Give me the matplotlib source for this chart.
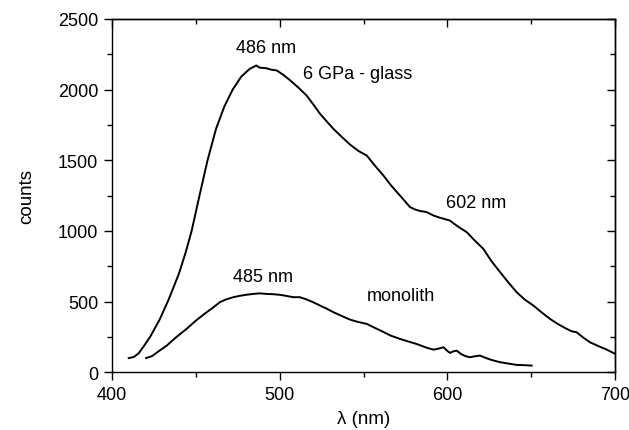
import matplotlib
matplotlib.use("Agg")
import matplotlib.pyplot as plt
from matplotlib.ticker import MultipleLocator

plt.rcParams['font.family'] = ['Liberation Sans', 'DejaVu Sans']

# 6 GPa - glass spectrum (wavelength nm, counts)
glass_wl = [410, 413, 416, 419, 423, 428.6, 434, 440, 444, 447.5, 452, 457,
            462, 467, 472, 477, 482, 486, 488, 492.2, 495,
            498.2, 502, 506.2, 511, 516, 520, 524, 528, 532, 537, 542, 547, 551.9,
            556.5, 561.8, 566.5, 571.7, 575, 577.7, 581, 584, 587.6, 591.6, 595,
            598, 601.5, 604, 607, 611.5, 616, 621.4, 626, 631.4, 636, 641.3, 646,
            651.2, 656, 661.2, 666, 671.1, 674, 677, 681, 685, 690, 695, 700]
glass_counts = [100, 108, 135, 185, 255, 377, 520, 700, 850, 1000, 1240, 1500,
                1720, 1880, 2000, 2090, 2145, 2170, 2155, 2150, 2140,
                2135, 2105, 2065, 2015, 1958, 1895, 1829, 1775, 1722, 1665, 1610,
                1565, 1533, 1465, 1392, 1320, 1250, 1205, 1168, 1150, 1140, 1133,
                1109, 1095, 1085, 1073, 1050, 1025, 991, 935, 873, 790, 708, 640,
                566, 515, 472, 425, 377, 340, 307, 290, 283, 245, 212, 185, 160, 130]

# monolith spectrum (wavelength nm, counts)
mono_wl = [420.3, 424, 428, 432.6, 438, 444.5, 450, 456.5, 460, 464.4, 468, 472.4,
           476, 480, 484.3, 488, 492.2, 496, 500, 504, 508.1, 512, 516, 520, 524,
           528, 532, 537, 542, 547, 551.9, 556, 561, 566, 571.7, 576, 581.6, 585,
           588, 591.6, 594, 597.6, 600, 601.5, 603.5, 605.5, 608, 610.5, 613.4,
           616, 619.4, 622, 626, 631.4, 636, 641.3, 646, 650.2]
mono_counts = [100, 115, 150, 188, 245, 307, 365, 425, 455, 496, 515, 531,
               540, 548, 554, 558, 554, 552, 548, 540, 531, 531, 515, 495, 472,
               450, 425, 398, 372, 355, 342, 318, 290, 260, 236, 220, 200, 185,
               172, 160, 165, 177, 150, 137, 148, 153, 130, 115, 106, 112, 118,
               105, 88, 71, 62, 52, 50, 47]

annot_texts = ["486 nm", "6 GPa - glass", "602 nm", "485 nm", "monolith"]
annot_x = [492, 514, 617, 490, 572]
annot_y = [2300, 2110, 1200, 675, 540]
annot_ha = ["center", "left", "center", "center", "center"]

fig = plt.figure(figsize=(6.29, 4.31), dpi=100)
ax = fig.add_axes([0.178, 0.134, 0.8, 0.82])

ax.plot(glass_wl, glass_counts, color='black', lw=1.4)
ax.plot(mono_wl, mono_counts, color='black', lw=1.4)

for t, x, y, ha in zip(annot_texts, annot_x, annot_y, annot_ha):
    ax.text(x, y, t, ha=ha, va='center', fontsize=13)

ax.set_xlim(400, 700)
ax.set_ylim(0, 2500)
ax.xaxis.set_major_locator(MultipleLocator(100))
ax.xaxis.set_minor_locator(MultipleLocator(50))
ax.yaxis.set_major_locator(MultipleLocator(500))
ax.yaxis.set_minor_locator(MultipleLocator(250))

ax.tick_params(axis='both', which='major', direction='out', length=6, width=1.0,
               labelsize=13, pad=4)
ax.tick_params(axis='both', which='minor', direction='out', length=3.5, width=1.0)

# top and right: inward ticks, no labels
axt = ax.secondary_xaxis('top')
axt.xaxis.set_major_locator(MultipleLocator(100))
axt.xaxis.set_minor_locator(MultipleLocator(50))
axt.tick_params(axis='x', which='major', direction='in', length=6, width=1.0, labeltop=False)
axt.tick_params(axis='x', which='minor', direction='in', length=3.5, width=1.0)
axr = ax.secondary_yaxis('right')
axr.yaxis.set_major_locator(MultipleLocator(500))
axr.yaxis.set_minor_locator(MultipleLocator(250))
axr.tick_params(axis='y', which='major', direction='in', length=6, width=1.0, labelright=False)
axr.tick_params(axis='y', which='minor', direction='in', length=3.5, width=1.0)
axt.spines['top'].set_linewidth(1.0)
axr.spines['right'].set_linewidth(1.0)

for s in ax.spines.values():
    s.set_linewidth(1.0)

ax.set_xlabel("λ (nm)", fontsize=13.5, labelpad=5)
ax.set_ylabel("counts", fontsize=13.5, labelpad=16)

fig.savefig("out.png", dpi=100)
